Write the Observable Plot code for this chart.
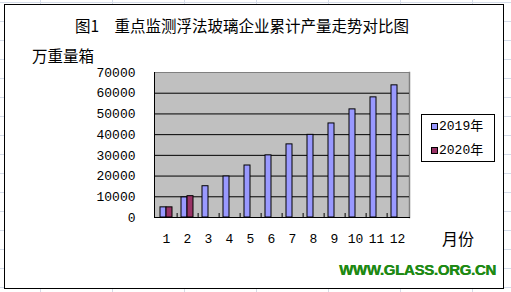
<!DOCTYPE html>
<html><head><meta charset="utf-8">
<script src="https://cdn.jsdelivr.net/npm/d3@7"></script>
<script src="https://cdn.jsdelivr.net/npm/@observablehq/plot@0.6"></script>
<style>
html,body{margin:0;padding:0;}
body{width:511px;height:292px;overflow:hidden;position:relative;background-color:#fff;
background-image:linear-gradient(to right,#d4dbe8 1px,transparent 1px),linear-gradient(to bottom,#d4dbe8 1px,transparent 1px);
background-size:72px 19px;background-position:40px 2px;}
#frame{position:absolute;left:4px;top:4px;width:498px;height:283px;border:1px solid #000;background:#fff;}
#chart{position:absolute;left:0;top:0;}
.t{position:absolute;white-space:nowrap;font-family:"Noto Sans CJK SC",sans-serif;color:#000;line-height:1;}
#legend{position:absolute;left:421px;top:114px;width:72px;height:46px;border:1px solid #000;background:#fff;}
.sw{position:absolute;width:5px;height:5px;border:1px solid #000;}
.lt{position:absolute;white-space:nowrap;font-family:"Liberation Mono","Noto Sans CJK SC",monospace;font-size:13px;line-height:1;color:#000;}
#wm{position:absolute;left:339px;top:262px;font-family:"Liberation Sans",Arial,sans-serif;font-weight:bold;font-size:15px;line-height:1;color:#1e8a14;letter-spacing:-0.3px;white-space:nowrap;text-shadow:0.4px 0 0 #1e8a14;}
</style></head>
<body>
<div id="frame"></div>
<div id="chart"></div>
<div class="t" id="title" style="left:75px;top:18px;font-size:15.5px;">图1　重点监测浮法玻璃企业累计产量走势对比图</div>
<div class="t" style="left:32px;top:48px;font-size:15.5px;">万重量箱</div>
<div class="t" style="left:442px;top:230px;font-size:16px;">月份</div>
<div id="legend"></div>
<div id="wm">WWW.GLASS.ORG.CN</div>
<script>
const months = [1,2,3,4,5,6,7,8,9,10,11,12];
const seriesNames = ["2019年","2020年"];
const values2019 = [4900,9700,15100,19800,25100,30000,35300,39900,45400,52200,58000,63800];
const values2020 = [4900,10300];
const yTicks = [0,10000,20000,30000,40000,50000,60000,70000];
const colors = ["#9999FF","#993366"];

const W = 511, H = 292;
const mL = 154, mR = 102, mT = 72, mB = 75;
const step = (W - mL - mR) / months.length;

const rows2019 = months.map((m,i) => ({month:m, value:values2019[i], series:seriesNames[0]}));
const rows2020 = values2020.map((v,i) => ({month:months[i], value:v, series:seriesNames[1]}));
const numFont = "Liberation Mono, monospace";

const chart = Plot.plot({
  width: W, height: H,
  marginLeft: mL, marginRight: mR, marginTop: mT, marginBottom: mB,
  style: {background: "transparent", overflow: "visible"},
  x: {type: "band", domain: months, paddingInner: 0.7176, paddingOuter: 0.3588, axis: null, label: null},
  y: {domain: [0, 70000], axis: null, label: null},
  color: {domain: seriesNames, range: colors},
  marks: [
    Plot.frame({fill: "#C0C0C0", stroke: null}),
    Plot.frame({anchor: "right", stroke: "#808080", strokeWidth: 1.5}),
    Plot.ruleY([70000], {stroke: "#808080"}),
    Plot.ruleY(yTicks.slice(1, -1), {stroke: "#000"}),
    Plot.barY(rows2019, {x: "month", y: "value", fill: "series", stroke: "#000", strokeWidth: 1, dx: -3}),
    Plot.barY(rows2020, {x: "month", y: "value", fill: "series", stroke: "#000", strokeWidth: 1, dx: 3}),
    Plot.ruleX(months.slice(0, -1), {x: d => d, y1: 0, y2: 0, insetTop: -4, dx: step / 2, stroke: "#000"}),
    Plot.frame({anchor: "left", stroke: "#000"}),
    Plot.frame({anchor: "bottom", stroke: "#000"}),
    Plot.axisY(yTicks, {tickSize: 0, tickPadding: 19, tickFormat: d => String(d), fontSize: 13, fontFamily: numFont, fill: "#000", label: null}),
    Plot.axisX(months, {tickSize: 0, tickPadding: 16, fontSize: 13, fontFamily: numFont, fill: "#000", label: null})
  ]
});
document.getElementById("chart").appendChild(chart);

const legend = document.getElementById("legend");
const legendTops = [126.7, 150];
seriesNames.forEach((name, i) => {
  const sw = document.createElement("div");
  sw.className = "sw";
  sw.style.left = (431 - 422) + "px";
  sw.style.top = (legendTops[i] - 3.5 - 115) + "px";
  sw.style.background = colors[i];
  legend.appendChild(sw);
  const tx = document.createElement("div");
  tx.className = "lt";
  tx.style.left = (439 - 422) + "px";
  tx.style.top = (legendTops[i] - 6.5 - 115) + "px";
  tx.textContent = name;
  legend.appendChild(tx);
});
</script>
</body></html>
